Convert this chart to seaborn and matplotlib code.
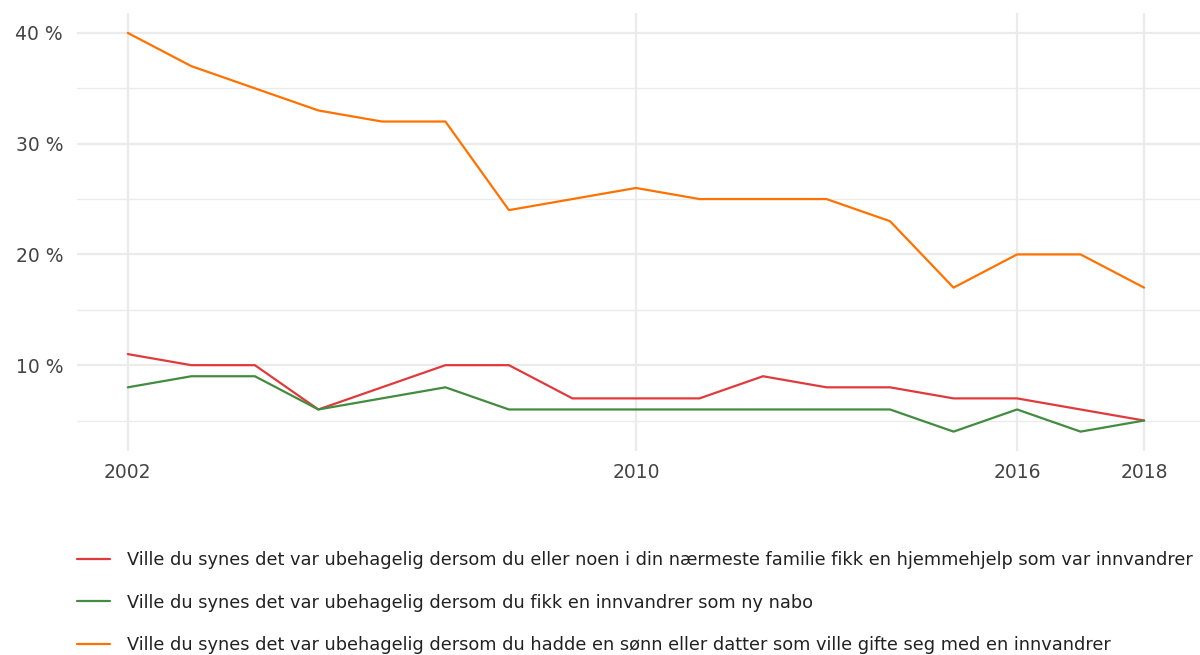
import matplotlib
matplotlib.use("Agg")
import matplotlib.pyplot as plt
import seaborn as sns
import pandas as pd
from matplotlib.lines import Line2D

years = list(range(2002, 2019))
hjemmehjelp = [11, 10, 10, 6, 8, 10, 10, 7, 7, 7, 9, 8, 8, 7, 7, 6, 5]
nabo = [8, 9, 9, 6, 7, 8, 6, 6, 6, 6, 6, 6, 6, 4, 6, 4, 5]
gifte = [40, 37, 35, 33, 32, 32, 24, 25, 26, 25, 25, 25, 23, 17, 20, 20, 17]

labels = [
    "Ville du synes det var ubehagelig dersom du eller noen i din nærmeste familie fikk en hjemmehjelp som var innvandrer",
    "Ville du synes det var ubehagelig dersom du fikk en innvandrer som ny nabo",
    "Ville du synes det var ubehagelig dersom du hadde en sønn eller datter som ville gifte seg med en innvandrer",
]
colors = ["#e03a3c", "#428c3f", "#ff7200"]
x_ticks = [2002, 2010, 2016, 2018]
y_ticks = [10, 20, 30, 40]
y_minor = [5, 15, 25, 35]

df = pd.concat([
    pd.DataFrame({"year": years, "value": vals, "serie": lab})
    for vals, lab in zip([hjemmehjelp, nabo, gifte], labels)
])

sns.set_theme(style="white")
plt.rcParams["font.family"] = ["DejaVu Sans"]

fig = plt.figure(figsize=(12, 6.55), dpi=100)
ax = fig.add_axes([77/1200, 1 - 451/655, 1 - 77/1200, (451 - 13)/655])

sns.lineplot(data=df, x="year", y="value", hue="serie", palette=colors,
             hue_order=labels, linewidth=1.6, ax=ax, legend=False)

ax.set_xlim(2001.2, 2018.88)
ax.set_ylim(2.25, 41.8)
ax.set_xticks(x_ticks)
ax.set_xticklabels([str(t) for t in x_ticks])
ax.set_yticks(y_ticks)
ax.set_yticklabels([f"{t} %" for t in y_ticks])
ax.set_yticks(y_minor, minor=True)
ax.grid(True, which="major", axis="both", color="#ebebeb", linewidth=1.6)
ax.grid(True, which="minor", axis="y", color="#ebebeb", linewidth=1.0)
ax.set_axisbelow(True)
for s in ax.spines.values():
    s.set_visible(False)
ax.tick_params(axis="both", which="both", length=0, colors="#444444", labelsize=13.5)
ax.tick_params(axis="y", pad=10)
ax.tick_params(axis="x", pad=9)
ax.set_xlabel("")
ax.set_ylabel("")

handles = [Line2D([0], [0], color=c, linewidth=1.6) for c in colors]
fig.legend(handles, labels, loc="upper left",
           bbox_to_anchor=(77/1200, 1 - 551/655), borderaxespad=0, borderpad=0,
           frameon=False, fontsize=12.8, handlelength=1.85, handletextpad=0.98,
           labelspacing=1.38, labelcolor="#222222")

fig.savefig("out.png", dpi=100)
